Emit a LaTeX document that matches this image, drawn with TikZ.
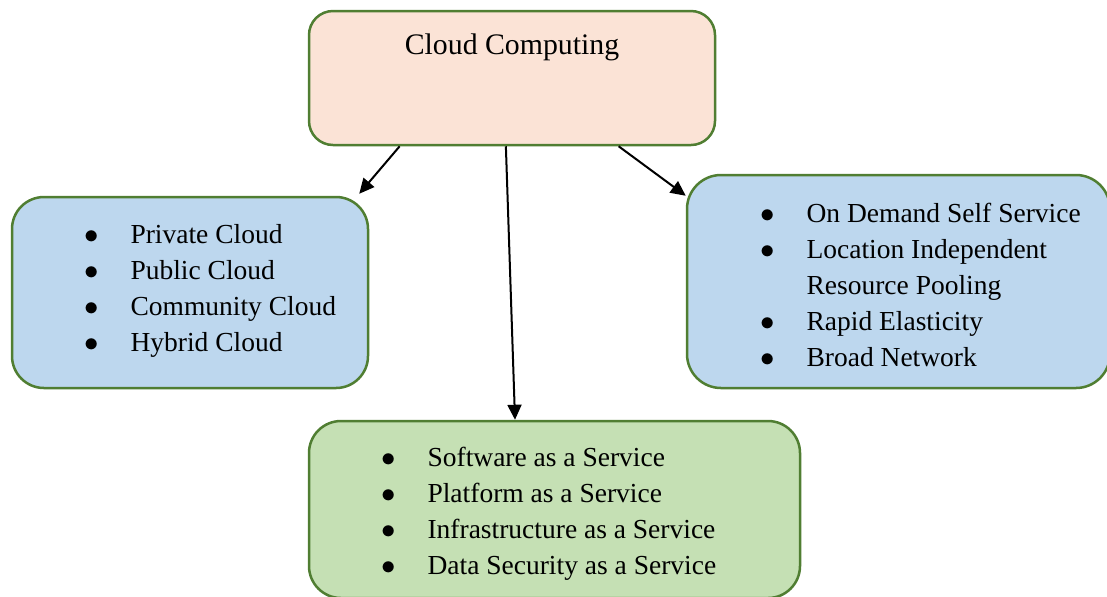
\documentclass[tikz,border=0pt]{standalone}
\usepackage{fontspec}
\setmainfont{Liberation Serif}
\usetikzlibrary{calc}
\usetikzlibrary{arrows.meta}

\definecolor{boxgreen}{HTML}{507E32}
\definecolor{peach}{HTML}{FBE3D6}
\definecolor{paleblue}{HTML}{BDD7EE}
\definecolor{palegreen}{HTML}{C5E0B4}

\newcommand{\blob}{$\bullet$}

\begin{document}
\begin{tikzpicture}[x=0.5pt, y=-0.5pt,
    box/.style={draw=boxgreen, line width=1.25pt, rectangle, inner sep=0pt},
    list/.style={inner sep=0pt, anchor=base west, font=\fontsize{13.75}{18}\selectfont},
    arr/.style={-{Triangle[length=7.5pt,width=7pt]}, line width=1pt}
    ]
    \useasboundingbox (0,0) rectangle (1107,596);
    % boxes
    \node[box, fill=peach, rounded corners=12pt, minimum width=203pt, minimum height=67pt] (cloud) at (512,78) {};
    \node[box, fill=paleblue, rounded corners=16pt, minimum width=178pt, minimum height=95.5pt] (models) at (190,292.5) {};
    \node[box, fill=paleblue, rounded corners=17pt, minimum width=211.5pt, minimum height=106.5pt] (traits) at (898.5,281.5) {};
    \node[box, fill=palegreen, rounded corners=16pt, minimum width=245.5pt, minimum height=88.5pt] (services) at (554.5,509.5) {};
    % texts
    \node[list, anchor=base, font=\fontsize{14.9}{18}\selectfont] (title) at ($(cloud.north)+(0,45)$) {Cloud Computing};
    \node[list] (modellist) at ($(models.north west)+(73,48)$) {%
      \begin{tabular}[t]{@{}l@{\hspace{16pt}}l@{}}
        \blob & Private Cloud\\
        \blob & Public Cloud\\
        \blob & Community Cloud\\
        \blob & Hybrid Cloud
      \end{tabular}};
    \node[list] (traitlist) at ($(traits.north west)+(74,49)$) {%
      \begin{tabular}[t]{@{}l@{\hspace{16pt}}l@{}}
        \blob & On Demand Self Service\\
        \blob & Location Independent\\
              & Resource Pooling\\
        \blob & Rapid Elasticity\\
        \blob & Broad Network
      \end{tabular}};
    \node[list] (servicelist) at ($(services.north west)+(73,47)$) {%
      \begin{tabular}[t]{@{}l@{\hspace{16pt}}l@{}}
        \blob & Software as a Service\\
        \blob & Platform as a Service\\
        \blob & Infrastructure as a Service\\
        \blob & Data Security as a Service
      \end{tabular}};
    % arrows
    \draw[arr] ($(cloud.south west)!0.225!(cloud.south east)$) -- ($(models.north east)+(-10,-2)$);
    \draw[arr] ($(cloud.south west)!0.485!(cloud.south east)$) -- ($(services.north west)!0.42!(services.north east)$);
    \draw[arr] ($(cloud.south west)!0.761!(cloud.south east)$) -- ($(traits.north west)+(0,22)$);
\end{tikzpicture}
\end{document}
